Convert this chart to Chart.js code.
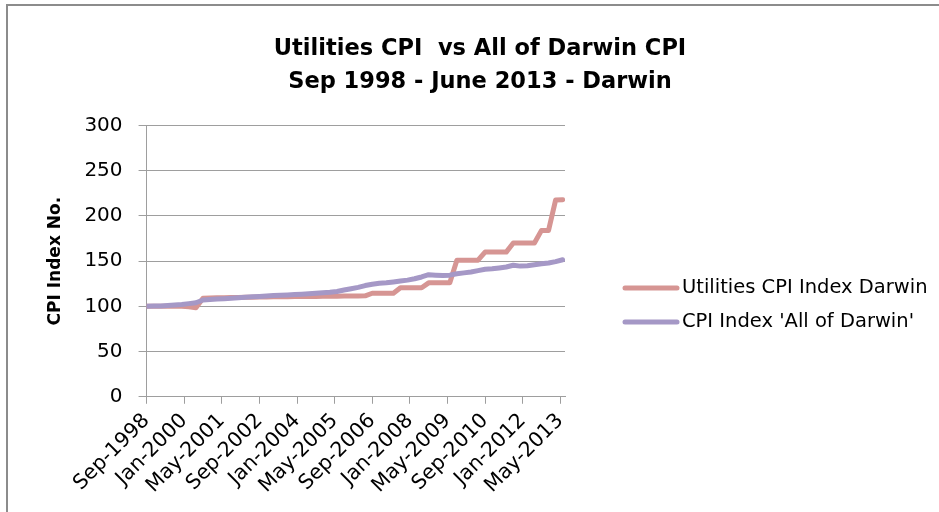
<!DOCTYPE html>
<html>
<head>
<meta charset="utf-8">
<script src="https://cdn.jsdelivr.net/npm/chart.js@4.4.1/dist/chart.umd.min.js"></script>
<style>
  html, body { margin: 0; padding: 0; background: #ffffff; }
  #wrap { position: relative; width: 939px; height: 512px; }
</style>
</head>
<body>
<div id="wrap"><canvas id="c" width="939" height="512"></canvas></div>
<script>
// ---------------- DATA ----------------
const quarters = [
  'Sep-1998','Dec-1998',
  'Mar-1999','Jun-1999','Sep-1999','Dec-1999',
  'Mar-2000','Jun-2000','Sep-2000','Dec-2000',
  'Mar-2001','Jun-2001','Sep-2001','Dec-2001',
  'Mar-2002','Jun-2002','Sep-2002','Dec-2002',
  'Mar-2003','Jun-2003','Sep-2003','Dec-2003',
  'Mar-2004','Jun-2004','Sep-2004','Dec-2004',
  'Mar-2005','Jun-2005','Sep-2005','Dec-2005',
  'Mar-2006','Jun-2006','Sep-2006','Dec-2006',
  'Mar-2007','Jun-2007','Sep-2007','Dec-2007',
  'Mar-2008','Jun-2008','Sep-2008','Dec-2008',
  'Mar-2009','Jun-2009','Sep-2009','Dec-2009',
  'Mar-2010','Jun-2010','Sep-2010','Dec-2010',
  'Mar-2011','Jun-2011','Sep-2011','Dec-2011',
  'Mar-2012','Jun-2012','Sep-2012','Dec-2012',
  'Mar-2013','Jun-2013'
];

const utilitiesCPI = [
  100, 100,
  100, 100, 100, 100,
  99.5, 98.5, 109, 109.2,
  109.4, 109.5, 109.7, 109.8,
  110, 110, 110.2, 110.3,
  110.5, 110.5, 110.7, 110.8,
  111, 111, 111, 111.2,
  111.3, 111.3, 111.5, 111.5,
  111.5, 111.6, 114.5, 114.5,
  114.5, 114.5, 120.5, 120.5,
  120.5, 120.5, 126, 126,
  126, 126, 151, 151,
  151, 151, 160, 160,
  160, 160, 170, 170,
  170, 170, 184, 184,
  217.5, 218
];

const allDarwinCPI = [
  100, 100.3,
  100.5, 101, 101.5, 102,
  103, 104, 107, 107.5,
  108, 108.5, 109, 109.5,
  110, 110.5, 111, 111.5,
  112, 112.3, 112.6, 113,
  113.5, 114, 114.5, 115,
  115.5, 116.5, 118, 119.5,
  121, 123, 124.5, 125.5,
  126, 127, 128, 129,
  130.5, 132.5, 135, 134.5,
  134, 134.5, 136, 137,
  138, 139.5, 141, 141.5,
  142.5, 143.5, 145.5, 144.5,
  145, 146, 147, 148,
  149.5, 151.5
];

const tickLabels = ['Sep-1998','Jan-2000','May-2001','Sep-2002','Jan-2004','May-2005',
                    'Sep-2006','Jan-2008','May-2009','Sep-2010','Jan-2012','May-2013'];
const axisStart = 'Sep-1998';
const axisEnd = 'Jul-2013';
const yTicks = [0, 50, 100, 150, 200, 250, 300];

const seriesNames = ['Utilities CPI Index Darwin', "CPI Index 'All of Darwin'"];
const titleLines = ['Utilities CPI  vs All of Darwin CPI', 'Sep 1998 - June 2013 - Darwin'];
const yTitle = 'CPI Index No.';

// ---------------- HELPERS ----------------
const MONTHS = ['Jan','Feb','Mar','Apr','May','Jun','Jul','Aug','Sep','Oct','Nov','Dec'];
function monthNumber(label) {
  const [m, y] = label.split('-');
  return parseInt(y, 10) * 12 + MONTHS.indexOf(m);
}
const base = monthNumber(axisStart);
const monthIndex = l => monthNumber(l) - base;
const tickMap = {};
tickLabels.forEach(l => { tickMap[monthIndex(l)] = l; });

const FONT = 'DejaVu Sans';
const RED = '#D69593';
const PURPLE = '#A598C6';
const GRID = '#9E9E9E';

const framePlugin = {
  id: 'frame',
  beforeDraw(chart) {
    const ctx = chart.ctx;
    ctx.save();
    ctx.fillStyle = '#ffffff';
    ctx.fillRect(0, 0, chart.width, chart.height);
    ctx.strokeStyle = '#8c8c8c';
    ctx.lineWidth = 2;
    ctx.beginPath();
    ctx.moveTo(7, chart.height);
    ctx.lineTo(7, 5);
    ctx.lineTo(chart.width, 5);
    ctx.stroke();
    ctx.restore();
  }
};

const sideLegend = {
  id: 'sideLegend',
  afterDraw(chart) {
    const ctx = chart.ctx;
    const x0 = chart.chartArea.right + 60;
    const y0 = 288;
    const step = 34;
    ctx.save();
    chart.data.datasets.forEach((ds, i) => {
      const y = y0 + i * step;
      ctx.strokeStyle = ds.borderColor;
      ctx.lineWidth = 5;
      ctx.lineCap = 'round';
      ctx.beginPath();
      ctx.moveTo(x0, y);
      ctx.lineTo(x0 + 52, y);
      ctx.stroke();
      ctx.fillStyle = '#000000';
      ctx.font = '19.5px "' + FONT + '"';
      ctx.textBaseline = 'middle';
      ctx.textAlign = 'left';
      ctx.fillText(ds.label, x0 + 57, y);
    });
    ctx.restore();
  }
};

new Chart(document.getElementById('c'), {
  type: 'line',
  data: {
    datasets: [
      {
        label: seriesNames[0],
        data: quarters.map((q, i) => ({ x: monthIndex(q), y: utilitiesCPI[i] })),
        borderColor: RED,
        backgroundColor: RED,
        borderWidth: 5,
        pointRadius: 0,
        tension: 0,
        borderJoinStyle: 'round',
        borderCapStyle: 'round',
        order: 1
      },
      {
        label: seriesNames[1],
        data: quarters.map((q, i) => ({ x: monthIndex(q), y: allDarwinCPI[i] })),
        borderColor: PURPLE,
        backgroundColor: PURPLE,
        borderWidth: 5,
        pointRadius: 0,
        tension: 0,
        borderJoinStyle: 'round',
        borderCapStyle: 'round',
        order: 0
      }
    ]
  },
  options: {
    responsive: false,
    animation: false,
    layout: { padding: { left: 21, right: 0, top: 0, bottom: 9 } },
    plugins: {
      legend: { display: false },
      tooltip: { enabled: false },
      title: {
        display: true,
        text: titleLines,
        color: '#000000',
        font: { family: FONT, size: 22.5, weight: 'bold', lineHeight: 1.5 },
        padding: { top: 32, bottom: 26 }
      }
    },
    scales: {
      x: {
        type: 'linear',
        min: monthIndex(axisStart),
        max: monthIndex(axisEnd),
        afterBuildTicks(scale) {
          scale.ticks = tickLabels.map(l => ({ value: monthIndex(l) }));
        },
        ticks: {
          autoSkip: false,
          minRotation: 45,
          maxRotation: 45,
          padding: 5,
          color: '#000000',
          font: { family: FONT, size: 20.5 },
          callback: v => tickMap[v] || ''
        },
        grid: {
          drawOnChartArea: false,
          drawTicks: true,
          tickLength: 7,
          color: GRID,
          lineWidth: 1
        },
        border: { display: true, color: GRID, width: 1 }
      },
      y: {
        type: 'linear',
        min: 0,
        max: 300,
        afterBuildTicks(scale) {
          scale.ticks = yTicks.map(v => ({ value: v }));
        },
        ticks: {
          color: '#000000',
          padding: 16,
          font: { family: FONT, size: 20 }
        },
        grid: {
          color: GRID,
          lineWidth: 1,
          drawTicks: true,
          tickLength: 8
        },
        border: { display: true, color: GRID, width: 1 },
        title: {
          display: true,
          text: yTitle,
          color: '#000000',
          font: { family: FONT, size: 17, weight: 'bold' },
          padding: { top: 24, bottom: 3 }
        }
      },
      spacer: {
        type: 'linear',
        position: 'right',
        display: true,
        grid: { display: false, drawTicks: false },
        ticks: { display: false },
        border: { display: false },
        afterFit(scale) { scale.width = 374; }
      }
    }
  },
  plugins: [framePlugin, sideLegend]
});
</script>
</body>
</html>
